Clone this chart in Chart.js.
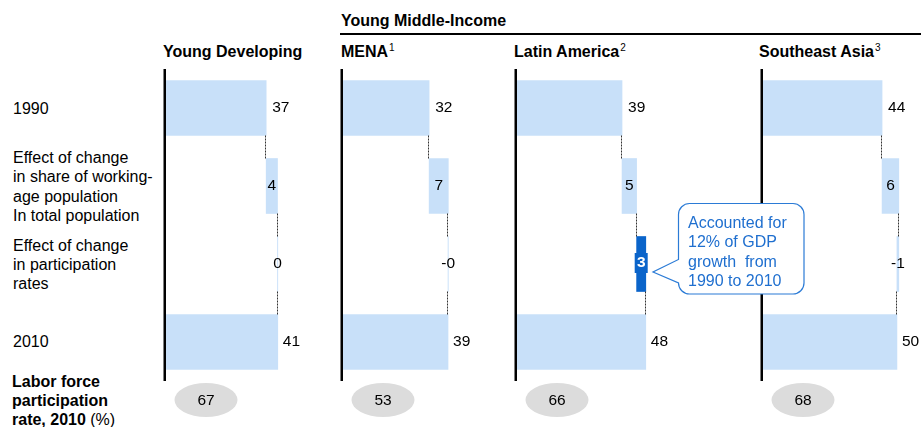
<!DOCTYPE html>
<html>
<head>
<meta charset="utf-8">
<script src="https://cdn.jsdelivr.net/npm/chart.js@4/dist/chart.umd.min.js"></script>
<style>
  body { margin: 0; width: 921px; height: 427px; position: relative; overflow: hidden; background: #fff;
         font-family: "Liberation Sans", Arial, sans-serif; color: #000; }
  .abs { position: absolute; white-space: nowrap; }
  .head { font-size: 16px; font-weight: bold; line-height: 16px; }
  .sup { font-size: 10px; font-weight: normal; position: relative; top: -6px; margin-left: 1px; }
  .rowlabel { position: absolute; left: 13px; width: 150px; height: 78px; display: flex; flex-direction: column;
              justify-content: center; font-size: 16px; line-height: 19.3px; white-space: nowrap; }
  canvas { position: absolute; top: 69px; }
  #callout { left: 688px; top: 213px; font-size: 16px; line-height: 19.4px; color: #1f6fcf; white-space: pre; }
</style>
</head>
<body>
<div class="abs head" style="left:341px; top:13px;">Young Middle-Income</div>
<div class="abs" style="left:340px; top:33px; width:581px; height:1.5px; background:#000;"></div>
<div id="headers"></div>
<div id="rows"></div>
<div class="abs" style="left:12px; top:372px; font-size:16px; line-height:19.2px;">
  <b>Labor force</b><br><b>participation</b><br><b>rate, 2010</b> (%)
</div>

<canvas id="panel0" width="162" height="362"></canvas>
<canvas id="panel1" width="162" height="362"></canvas>
<canvas id="panel2" width="162" height="362"></canvas>
<canvas id="panel3" width="162" height="362"></canvas>

<svg class="abs" style="left:0; top:0;" width="921" height="427">
  <path d="M689.5,203.5 H793 A11,11 0 0 1 804,214.5 V283 A11,11 0 0 1 793,294 H689.5 A11,11 0 0 1 678.5,283 L653,272 L678.5,259.5 V214.5 A11,11 0 0 1 689.5,203.5 Z"
        fill="#fff" stroke="#2b7bd6" stroke-width="1.2"/>
</svg>
<div id="callout" class="abs">Accounted for
12% of GDP
growth  from
1990 to 2010</div>

<script>
// datos
var regions = ['Young Developing', 'MENA', 'Latin America', 'Southeast Asia'];
var footnotes = ['', '1', '2', '3'];
var rowNames = ['1990', 'Working-age share', 'Participation', '2010'];
var rowText = [
    ['1990'],
    ['Effect of change', 'in share of working-', 'age population', 'In total population'],
    ['Effect of change', 'in participation', 'rates'],
    ['2010']
];
var value1990 = [37.1, 31.9, 38.9, 44.1];
var effectShare = [4.2, 7.1, 5.4, 6.2];
var effectParticipation = [0.1, -0.1, 3.4, -0.7];
var value2010 = [41.4, 38.9, 47.7, 49.6];
var participationRate2010 = [67, 53, 66, 68];
var highlightRegion = 2; // Latin America, efecto participacion

// posicion del eje de cada panel (pixeles de la pagina)
var panelLeft = [166, 343, 517, 763];
var headerLeft = [163, 341, 514, 759];
var pxPerUnit = 2.7;
var rowCenters = [108.5, 186.5, 264.5, 342];

var lightBlue = '#c8e0f9';
var darkBlue = '#0a64ca';

function fmt(v) {
    var r = Math.round(v);
    return (v < 0 ? '-' : '') + Math.abs(r);
}

// encabezados y etiquetas de filas
var headersHtml = '';
for (var i = 0; i < regions.length; i++) {
    headersHtml += '<div class="abs head" style="left:' + headerLeft[i] + 'px; top:44px;">' + regions[i] +
        (footnotes[i] ? '<span class="sup">' + footnotes[i] + '</span>' : '') + '</div>';
}
document.getElementById('headers').innerHTML = headersHtml;

var rowsHtml = '';
for (var r = 0; r < rowText.length; r++) {
    rowsHtml += '<div class="rowlabel" style="top:' + (rowCenters[r] - 39) + 'px;"><div>' + rowText[r].join('<br>') + '</div></div>';
}
document.getElementById('rows').innerHTML = rowsHtml;

function makePanel(p) {
    var start = value1990[p];
    var afterShare = start + effectShare[p];
    var afterPart = afterShare + effectParticipation[p];
    var ends = [start, afterShare, afterPart, value2010[p]];
    var ranges = [[0, start], [start, afterShare], [afterShare, afterPart], [0, value2010[p]]];
    var colors = [lightBlue, lightBlue, p === highlightRegion ? darkBlue : lightBlue, lightBlue];

    var plugin = {
        id: 'waterfall' + p,
        afterDatasetsDraw: function(chart) {
            var ctx = chart.ctx;
            var area = chart.chartArea;
            var xs = chart.scales.x;
            var bars = chart.getDatasetMeta(0).data;
            ctx.save();

            // eje vertical negro
            ctx.fillStyle = '#000';
            ctx.fillRect(area.left - 2.5, area.top, 2.5, area.bottom - area.top);

            // lineas punteadas entre barras
            ctx.strokeStyle = '#333';
            ctx.lineWidth = 1;
            ctx.setLineDash([2, 1]);
            for (var i = 0; i < 3; i++) {
                var x = Math.round(xs.getPixelForValue(ends[i])) - 0.5;
                ctx.beginPath();
                ctx.moveTo(x, bars[i].y + bars[i].height / 2);
                ctx.lineTo(x, bars[i + 1].y - bars[i + 1].height / 2);
                ctx.stroke();
            }
            ctx.setLineDash([]);

            // etiquetas de valores
            ctx.font = '15.5px "Liberation Sans", Arial, sans-serif';
            ctx.textBaseline = 'middle';
            ctx.fillStyle = '#000';
            ctx.textAlign = 'left';
            ctx.fillText(fmt(value1990[p]), xs.getPixelForValue(ends[0]) + 6, bars[0].y);
            ctx.fillText(fmt(value2010[p]), xs.getPixelForValue(ends[3]) + 5, bars[3].y);
            ctx.textAlign = 'center';
            var mid1 = (xs.getPixelForValue(ranges[1][0]) + xs.getPixelForValue(ranges[1][1])) / 2;
            ctx.fillText(fmt(effectShare[p]), mid1, bars[1].y);
            var mid2 = (xs.getPixelForValue(ranges[2][0]) + xs.getPixelForValue(ranges[2][1])) / 2;
            if (p === highlightRegion) {
                ctx.fillStyle = darkBlue;
                ctx.fillRect(mid2 - 6.5, bars[2].y - 11, 13, 20);
                ctx.fillStyle = '#fff';
                ctx.font = 'bold 15.5px "Liberation Sans", Arial, sans-serif';
                ctx.fillText(fmt(effectParticipation[p]), mid2, bars[2].y - 1);
            } else {
                ctx.fillText(fmt(effectParticipation[p]), mid2, bars[2].y);
            }

            // elipse gris con la tasa de participacion
            var cx = area.left + 40, cy = area.bottom + 19;
            ctx.fillStyle = '#dcdcdc';
            ctx.beginPath();
            ctx.ellipse(cx, cy, 31.5, 17, 0, 0, Math.PI * 2);
            ctx.fill();
            ctx.fillStyle = '#000';
            ctx.font = '15.5px "Liberation Sans", Arial, sans-serif';
            ctx.fillText(String(participationRate2010[p]), cx, cy + 1);
            ctx.restore();
        }
    };

    var canvas = document.getElementById('panel' + p);
    canvas.style.left = (panelLeft[p] - 4) + 'px';

    var config = {
        type: 'bar',
        data: {
            labels: rowNames,
            datasets: [{
                data: ranges,
                backgroundColor: colors,
                borderWidth: 0,
                barThickness: 55
            }]
        },
        options: {
            indexAxis: 'y',
            responsive: false,
            animation: false,
            layout: { padding: { left: 4, right: 6, top: 0, bottom: 50 } },
            scales: {
                x: { type: 'linear', min: 0, max: 152 / pxPerUnit, display: false },
                y: { type: 'category', display: false }
            },
            plugins: {
                legend: { display: false },
                tooltip: { enabled: false }
            }
        },
        plugins: [plugin]
    };

    new Chart(canvas.getContext('2d'), config);
}

for (var p = 0; p < regions.length; p++) {
    makePanel(p);
}
</script>
</body>
</html>
